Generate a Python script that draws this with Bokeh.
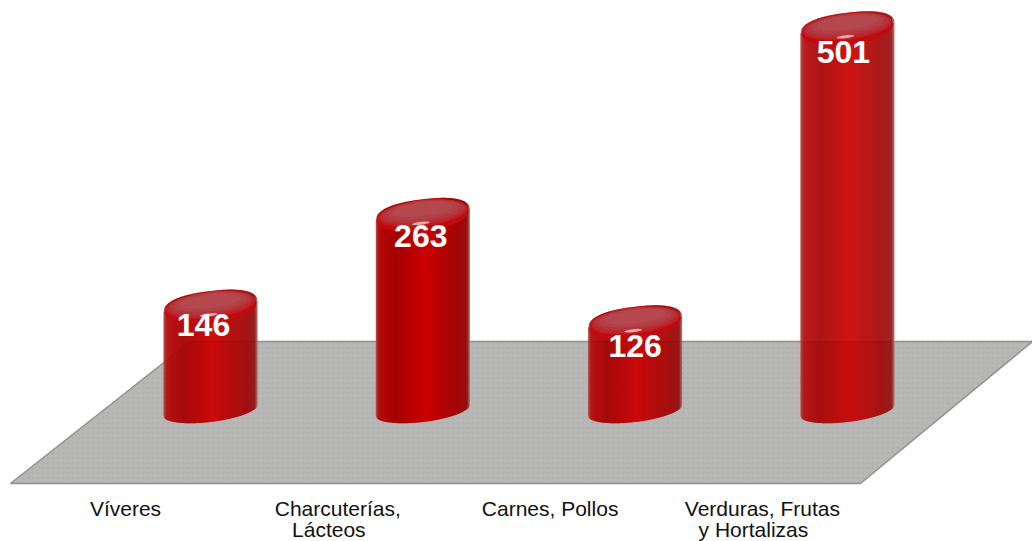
import numpy as np
from bokeh.plotting import figure
from bokeh.embed import file_html
from bokeh.resources import INLINE
from bokeh.models import Range1d
from bokeh.core.properties import value

label_line1 = ["Víveres", "Charcuterías,", "Carnes, Pollos", "Verduras, Frutas"]
label_line2 = ["", "Lácteos", "", "y Hortalizas"]
values = [146, 263, 126, 501]

# layout constants (pixels of the reference picture)
PX_X = 212.3       # pixels per category step
PX_Y = 0.784       # pixels per value unit
BASE_VALUE = 14    # value that sits on the floor
BASE_PY = 410      # picture y of the base ellipse centre
LABEL_PX0 = 125    # picture x of the first category label
BAR_SHIFT = 85     # bars stand this far to the right of their labels
HALF_W = 47
TILT = 5.5
LABEL_DX = [-7, -2, 0, -4]
LABEL_DY = [18, 21, 23, 23]
LINE2_DX = -9
SHOULDER = 2.4

FRAME_W, FRAME_H = 1032, 541


def px_x(px):
    return (np.asarray(px, float) - LABEL_PX0) / PX_X


def py_y(py):
    return BASE_VALUE + (BASE_PY - np.asarray(py, float)) / PX_Y


p = figure(width=FRAME_W, height=FRAME_H,
           output_backend="svg", toolbar_location=None,
           x_range=Range1d(float(px_x(0)), float(px_x(FRAME_W))),
           y_range=Range1d(float(py_y(FRAME_H)), float(py_y(0))),
           min_border=0, min_border_left=0, min_border_right=0, min_border_top=0, min_border_bottom=0)
p.outline_line_color = None
p.grid.visible = False
p.axis.visible = False

# floor
p.patch(px_x([10, 860, 1032, 190]), py_y([483, 483, 341, 341]),
        fill_color="#b7b7b5", line_color="#909090", line_width=1.5,
        hatch_pattern="dot", hatch_color="#a2a2a0", hatch_scale=5, hatch_weight=1, hatch_alpha=0.3)

# cylinder shading across the width
stops = [0.0, 0.03, 0.08, 0.2, 0.42, 0.52, 0.7, 0.88, 0.97, 1.0]
reds = [0xb8, 0xb0, 0xb4, 0xa6, 0xbe, 0xcc, 0xb6, 0xa0, 0x94, 0xb0]
greens = [0x50, 0x10, 0x06, 0x02, 0x00, 0x00, 0x04, 0x08, 0x12, 0x70]
blues = [0x50, 0x10, 0x06, 0x04, 0x00, 0x00, 0x04, 0x08, 0x12, 0x70]

dxs = np.arange(-HALF_W, HALF_W)
xs_all, ys_all, cols = [], [], []
for i, v in enumerate(values):
    cx = LABEL_PX0 + i * PX_X + BAR_SHIFT
    top_py = BASE_PY - (v - BASE_VALUE) * PX_Y
    for dx in dxs:
        t = (dx + 0.5 + HALF_W) / (2 * HALF_W)
        r = int(np.interp(t, stops, reds))
        g = int(np.interp(t, stops, greens))
        b = int(np.interp(t, stops, blues))
        xa, xb = dx, dx + 1.4
        xbc = min(xb, HALF_W)
        ea = np.sqrt(max(0, 1 - (xa / HALF_W) ** 2))
        eb = np.sqrt(max(0, 1 - (xbc / HALF_W) ** 2))
        sa = max(0, 1 - abs(xa / HALF_W) ** SHOULDER) ** (1 / SHOULDER)
        sb = max(0, 1 - abs(xbc / HALF_W) ** SHOULDER) ** (1 / SHOULDER)
        bot_a = BASE_PY - TILT * xa / HALF_W + 11.5 * ea
        bot_b = BASE_PY - TILT * xbc / HALF_W + 11.5 * eb
        top_a = top_py - TILT * xa / HALF_W - 16 * sa
        top_b = top_py - TILT * xbc / HALF_W - 16 * sb
        xs_all.append(px_x([cx + xa, cx + xbc, cx + xbc, cx + xa]))
        ys_all.append(py_y([bot_a, bot_b, top_b, top_a]))
        cols.append(f"#{r:02x}{g:02x}{b:02x}")
p.patches(xs_all, ys_all, fill_color=cols, line_color=None)

tilt_angle = np.arctan(TILT / HALF_W)
cap_layers = [  # dy, width, height, colour
    (1, 92, 30, "#c20a0e"),
    (-2, 90, 26, "#bc1c22"),
    (-3, 87, 24, "#b82a30"),
    (-4, 82, 21, "#b4363c"),
    (-5, 74, 18, "#b24046"),
    (-6, 62, 14, "#b4484e"),
]
for i, v in enumerate(values):
    cx = LABEL_PX0 + i * PX_X + BAR_SHIFT
    top_py = BASE_PY - (v - BASE_VALUE) * PX_Y
    for dy, w, h, col in cap_layers:
        p.ellipse(px_x([cx]), py_y([top_py + dy]), width=w, height=h, angle=tilt_angle,
                  width_units="screen", height_units="screen",
                  fill_color=col, line_color=None)
    p.ellipse(px_x([cx - 2]), py_y([top_py + 8]), width=18, height=3, angle=tilt_angle,
              width_units="screen", height_units="screen",
              fill_color="#ffffff", fill_alpha=0.6, line_color=None)
    p.text(px_x([cx + LABEL_DX[i]]), py_y([top_py + LABEL_DY[i]]), text=[str(v)],
           text_font=value("Liberation Sans"), text_font_style="bold",
           text_font_size="32px", text_color="#ffffff",
           text_align="center", text_baseline="middle")

# category labels
for i, (l1, l2) in enumerate(zip(label_line1, label_line2)):
    p.text([i], py_y([508]), text=[l1], text_font=value("Liberation Sans"),
           text_font_size="21px", text_color="#111111",
           text_align="center", text_baseline="middle")
    if l2:
        p.text(px_x([LABEL_PX0 + i * PX_X + LINE2_DX]), py_y([528.5]), text=[l2],
               text_font=value("Liberation Sans"),
               text_font_size="21px", text_color="#111111",
               text_align="center", text_baseline="middle")

open("out.html", "w").write(file_html(p, INLINE))
